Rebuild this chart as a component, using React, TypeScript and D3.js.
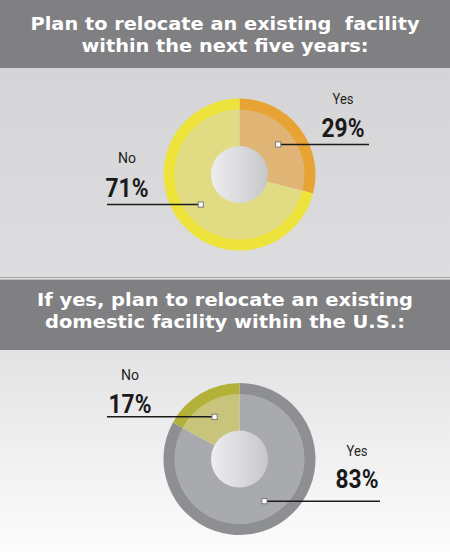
import React from "react";
import * as d3 from "d3";

const chart1Labels = ["Yes", "No"];
const chart1Values = [29, 71];
const chart2Labels = ["Yes", "No"];
const chart2Values = [83, 17];
const title1 = ["Plan to relocate an existing  facility", "within the next five years:"];
const title2 = ["If yes, plan to relocate an existing", "domestic facility within the U.S.:"];

const W = 450;
const H = 552;

type LabelPos = { tx: number; nameY: number; pctY: number; lineEnd: number };

function Donut(props: {
  cx: number;
  cy: number;
  labels: string[];
  values: number[];
  outerColors: string[];
  innerColors: string[];
  labelPos: LabelPos[];
  gradId: string;
}) {
  const { cx, cy, labels, values, outerColors, innerColors, labelPos, gradId } = props;
  const rOuter = 76;
  const rBand = 65;
  const rHole = 28.5;
  const pie = d3.pie<number>().sort(null).value((d) => d);
  const arcs = pie(values);
  const bandArc = d3.arc<d3.PieArcDatum<number>>().innerRadius(rBand - 0.5).outerRadius(rOuter);
  const fillArc = d3.arc<d3.PieArcDatum<number>>().innerRadius(0).outerRadius(rBand);
  const centroidArc = d3.arc<d3.PieArcDatum<number>>().innerRadius(31).outerRadius(67);
  return (
    <g transform={`translate(${cx},${cy})`}>
      {arcs.map((a, i) => (
        <path key={"b" + i} d={bandArc(a) || ""} fill={outerColors[i]} />
      ))}
      {arcs.map((a, i) => (
        <path key={"f" + i} d={fillArc(a) || ""} fill={innerColors[i]} />
      ))}
      <circle r={rHole} fill={`url(#${gradId})`} />
      {arcs.map((a, i) => {
        const [mx, my] = centroidArc.centroid(a);
        const lp = labelPos[i];
        return (
          <g key={"l" + i}>
            <line x1={mx} y1={my} x2={lp.lineEnd - cx} y2={my} stroke="#1b1b1b" strokeWidth={1.6} />
            <rect x={mx - 2.6} y={my - 2.6} width={5.2} height={5.2} fill="#ffffff" stroke="#7a7a7a" strokeWidth={1} />
            <text
              x={lp.tx - cx}
              y={lp.nameY - cy}
              textAnchor="middle"
              fontFamily="Roboto, 'Liberation Sans', sans-serif"
              fontSize={15}
              fill="#1f1f1f"
              textLength={labels[i] === "Yes" ? 21 : 18}
              lengthAdjust="spacingAndGlyphs"
            >
              {labels[i]}
            </text>
            <text
              x={lp.tx - cx}
              y={lp.pctY - cy}
              textAnchor="middle"
              fontFamily="Roboto, 'Liberation Sans', sans-serif"
              fontWeight="bold"
              fontSize={25}
              fill="#1a1a1a"
              textLength={43}
              lengthAdjust="spacingAndGlyphs"
            >
              {values[i] + "%"}
            </text>
          </g>
        );
      })}
    </g>
  );
}

function Title(props: { lines: string[]; y0: number; y1: number; widths: number[] }) {
  const { lines, y0, y1, widths } = props;
  return (
    <g>
      {lines.map((t, i) => (
        <text
          key={i}
          x={W / 2}
          y={i === 0 ? y0 : y1}
          textAnchor="middle"
          fontFamily="'DejaVu Sans', sans-serif"
          fontWeight="bold"
          fontSize={18.5}
          fill="#ffffff"
          textLength={widths[i]}
          lengthAdjust="spacingAndGlyphs"
          style={{ whiteSpace: "pre" }}
        >
          {t}
        </text>
      ))}
    </g>
  );
}

export default function App() {
  return (
    <div style={{ position: "fixed", left: 0, top: 0, width: W, height: H }}>
      <svg width={W} height={H} style={{ display: "block" }}>
        <defs>
          <linearGradient id="holeGrad" x1="0" x2="1" y1="0" y2="0">
            <stop offset="0" stopColor="#eeeef0" />
            <stop offset="1" stopColor="#c6c7c9" />
          </linearGradient>
          <linearGradient id="panel1" x1="0" x2="0" y1="0" y2="1">
            <stop offset="0" stopColor="#d5d5d7" />
            <stop offset="1" stopColor="#dddddf" />
          </linearGradient>
          <linearGradient id="panel2" x1="0" x2="0" y1="0" y2="1">
            <stop offset="0" stopColor="#e3e3e5" />
            <stop offset="1" stopColor="#fcfcfc" />
          </linearGradient>
        </defs>
        <rect x={0} y={0} width={W} height={H} fill="#ffffff" />
        <rect x={0} y={0} width={W} height={68} fill="#808083" />
        <rect x={0} y={68} width={W} height={210} fill="url(#panel1)" />
        <rect x={0} y={277} width={W} height={1.5} fill="#a5a5a8" />
        <rect x={0} y={278.5} width={W} height={1.5} fill="#f2f2f2" />
        <rect x={0} y={279.5} width={W} height={70.5} fill="#808083" />
        <rect x={0} y={350} width={W} height={202} fill="url(#panel2)" />
        <Title lines={title1} y0={30} y1={52} widths={[389, 287]} />
        <Title lines={title2} y0={306} y1={328} widths={[376, 360]} />
        <Donut
          cx={239.5}
          cy={174.5}
          labels={chart1Labels}
          values={chart1Values}
          outerColors={["#e8a335", "#ede33a"]}
          innerColors={["#e0b474", "#e1dc84"]}
          labelPos={[
            { tx: 343, nameY: 104, pctY: 137, lineEnd: 369 },
            { tx: 127, nameY: 163, pctY: 197, lineEnd: 107 },
          ]}
          gradId="holeGrad"
        />
        <Donut
          cx={239.5}
          cy={459}
          labels={chart2Labels}
          values={chart2Values}
          outerColors={["#8e8f92", "#b4b13a"]}
          innerColors={["#a9aaad", "#c8c47b"]}
          labelPos={[
            { tx: 357, nameY: 456, pctY: 488, lineEnd: 380 },
            { tx: 130, nameY: 380, pctY: 413, lineEnd: 107 },
          ]}
          gradId="holeGrad"
        />
      </svg>
    </div>
  );
}
